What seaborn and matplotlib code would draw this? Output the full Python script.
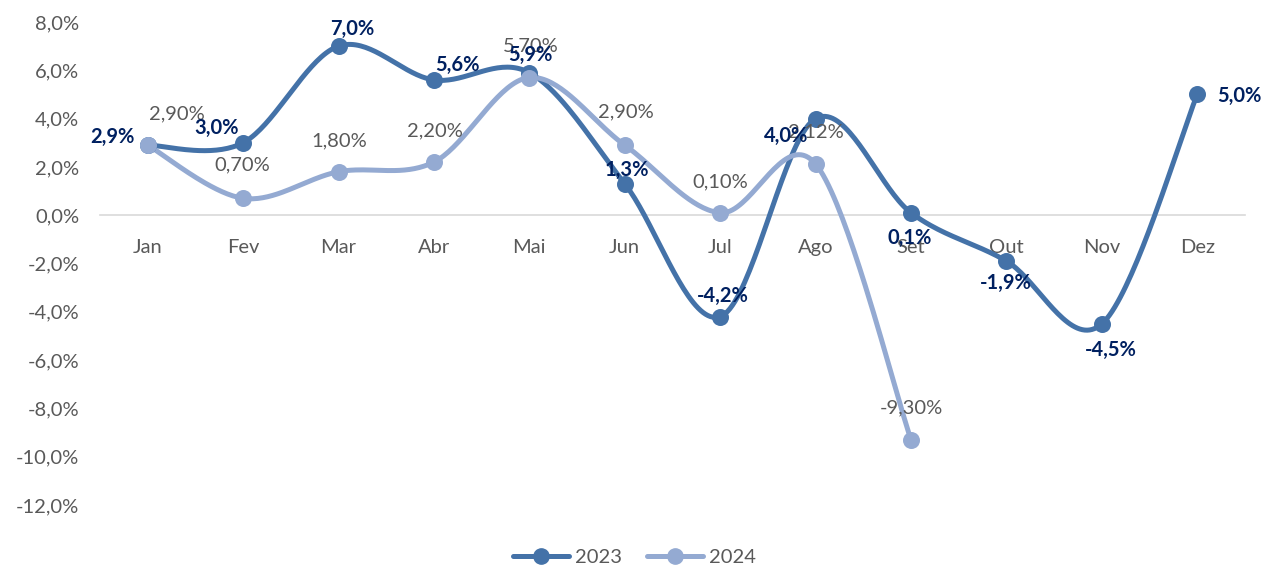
import numpy as np
import pandas as pd
import matplotlib
matplotlib.use("Agg")
import matplotlib.pyplot as plt
import seaborn as sns

months = ["Jan", "Fev", "Mar", "Abr", "Mai", "Jun", "Jul", "Ago", "Set", "Out", "Nov", "Dez"]
v2023 = [2.9, 3.0, 7.0, 5.6, 5.9, 1.3, -4.2, 4.0, 0.1, -1.9, -4.5, 5.0]
v2024 = [2.9, 0.7, 1.8, 2.2, 5.7, 2.9, 0.1, 2.12, -9.3]
lab2023 = ["2,9%", "3,0%", "7,0%", "5,6%", "5,9%", "1,3%", "-4,2%", "4,0%", "0,1%", "-1,9%", "-4,5%", "5,0%"]
lab2024 = ["2,90%", "0,70%", "1,80%", "2,20%", "5,70%", "2,90%", "0,10%", "2,12%", "-9,30%"]
yticks = [8, 6, 4, 2, 0, -2, -4, -6, -8, -10, -12]
ytick_labels = ["8,0%", "6,0%", "4,0%", "2,0%", "0,0%", "-2,0%", "-4,0%", "-6,0%", "-8,0%", "-10,0%", "-12,0%"]

c2023 = "#4472A8"
c2024 = "#94AAD2"

sns.set_theme(style="white")
plt.rcParams["font.family"] = ["Lato", "DejaVu Sans"]

FS = 14.5

fig = plt.figure(figsize=(12.69, 5.66), dpi=100)
ax = fig.add_axes([100 / 1269, 1 - 505 / 566, 1145 / 1269, (505 - 22) / 566])


def smooth(xs, ys, n=40):
    xs = np.asarray(xs, float)
    ys = np.asarray(ys, float)
    P = np.column_stack([xs, ys])
    outx, outy = [], []
    for i in range(len(P) - 1):
        p0 = P[i - 1] if i > 0 else P[i]
        p1 = P[i]
        p2 = P[i + 1]
        p3 = P[i + 2] if i + 2 < len(P) else P[i + 1]
        c1 = p1 + (p2 - p0) / 6
        c2 = p2 - (p3 - p1) / 6
        t = np.linspace(0, 1, n)[:, None]
        b = (1 - t) ** 3 * p1 + 3 * (1 - t) ** 2 * t * c1 + 3 * (1 - t) * t ** 2 * c2 + t ** 3 * p2
        outx.extend(b[:, 0]); outy.extend(b[:, 1])
    return np.array(outx), np.array(outy)


df23 = pd.DataFrame({"x": np.arange(len(v2023)), "y": v2023})
df24 = pd.DataFrame({"x": np.arange(len(v2024)), "y": v2024})

for df, col in [(df23, c2023), (df24, c2024)]:
    sx, sy = smooth(df["x"], df["y"])
    sns.lineplot(x=sx, y=sy, ax=ax, color=col, linewidth=3.6, sort=False, estimator=None)
    sns.scatterplot(data=df, x="x", y="y", ax=ax, color=col, s=150, edgecolor=col, linewidth=0, zorder=5)

# data labels 2023 (offset in pixels: dx, dy, ha)
off23 = [(-13, 8, "right"), (-27, 15, "center"), (14, 17, "center"), (23, 15, "center"),
         (1, 18, "center"), (2, 14, "center"), (3, 21, "center"), (-29, -17, "center"),
         (-1, -25, "center"), (-1, -22, "center"), (9, -26, "center"), (20, -2, "left")]
for i, (v, t) in enumerate(zip(v2023, lab2023)):
    dx, dy, ha = off23[i]
    ax.annotate(t, (i, v), xytext=(dx, dy), textcoords="offset pixels", ha=ha, va="center",
                fontsize=FS, fontweight="bold", color="#002060", zorder=7)

off24 = [(29, 31), (-1, 33), (1, 31), (1, 31), (1, 32), (1, 33), (0, 31), (0, 32), (0, 32)]
for i, (v, t) in enumerate(zip(v2024, lab2024)):
    dx, dy = off24[i]
    ax.annotate(t, (i, v), xytext=(dx, dy), textcoords="offset pixels", ha="center", va="center",
                fontsize=FS, color="#595959", zorder=6)

ax.set_xlim(-0.5, 11.5)
ax.set_ylim(-12, 8)
ax.set_yticks(yticks)
ax.set_yticklabels(ytick_labels)
ax.set_xticks(range(len(months)))
ax.set_xticklabels(months)
ax.set_xlabel("")
ax.set_ylabel("")
for s in ["top", "right", "left"]:
    ax.spines[s].set_visible(False)
ax.spines["bottom"].set_position(("data", 0))
ax.spines["bottom"].set_color("#D9D9D9")
ax.spines["bottom"].set_linewidth(1.2)
ax.spines["bottom"].set_zorder(1)
ax.tick_params(axis="x", length=0, pad=17, labelsize=FS, labelcolor="#595959")
ax.tick_params(axis="y", length=0, pad=15, labelsize=FS, labelcolor="#595959")
ax.grid(False)

from matplotlib.lines import Line2D
handles = [Line2D([0], [0], color=c2023, lw=3.6, marker="o", markersize=11),
           Line2D([0], [0], color=c2024, lw=3.6, marker="o", markersize=11)]
fig.legend(handles, ["2023", "2024"], loc="center", bbox_to_anchor=(0.5, 1 - 557 / 566), ncol=2,
           frameon=False, fontsize=FS, labelcolor="#595959", handlelength=2.8, columnspacing=1.2,
           handletextpad=0.3)

fig.savefig("out.png", dpi=100)
